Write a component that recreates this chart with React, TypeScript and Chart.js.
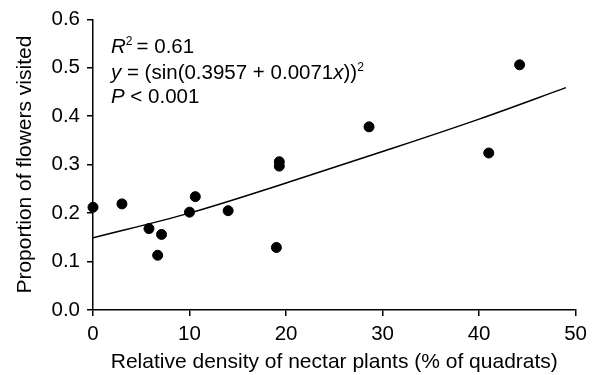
import React, { useEffect, useRef } from "react";
import { Chart, registerables } from "chart.js";

Chart.register(...registerables);

const densityX = [0, 3.0, 5.8, 6.7, 7.1, 10.0, 10.6, 14.0, 19.0, 19.3, 19.3, 28.6, 41.0, 44.2];
const visitedY = [0.212, 0.219, 0.168, 0.113, 0.156, 0.202, 0.234, 0.205, 0.129, 0.297, 0.306, 0.378, 0.324, 0.506];

const curveX = [0, 10, 20, 30, 40, 49];
const curveY = [0.149, 0.2, 0.262, 0.327, 0.394, 0.459];

const xTicks = [0, 10, 20, 30, 40, 50];
const yTicks = [0.0, 0.1, 0.2, 0.3, 0.4, 0.5, 0.6];

const FONT = "'Liberation Sans', Arial, Helvetica, sans-serif";

type Seg = { t: string; italic?: boolean; sup?: boolean };

const annotationLines: Seg[][] = [
  [{ t: "R", italic: true }, { t: "2", sup: true }, { t: "\u2009= 0.61" }],
  [
    { t: "y", italic: true },
    { t: " = (sin(0.3957 + 0.0071" },
    { t: "x", italic: true },
    { t: "))" },
    { t: "2", sup: true },
  ],
  [{ t: "P", italic: true }, { t: " < 0.001" }],
];

const annotationPlugin = {
  id: "annotationText",
  afterDraw(chart: any) {
    const ctx = chart.ctx;
    ctx.save();
    ctx.fillStyle = "#000";
    ctx.textBaseline = "alphabetic";
    ctx.textAlign = "left";
    const startX = 111;
    const baselines = [53, 79, 103];
    annotationLines.forEach((line, i) => {
      let x = startX;
      const y = baselines[i];
      line.forEach((s) => {
        const size = s.sup ? 12 : 20.5;
        ctx.font = `${s.italic ? "italic " : ""}${size}px ${FONT}`;
        ctx.fillText(s.t, x, s.sup ? y - 8 : y);
        x += ctx.measureText(s.t).width;
      });
    });
    ctx.restore();
  },
};

export default function App() {
  const ref = useRef<HTMLCanvasElement | null>(null);
  useEffect(() => {
    document.body.style.margin = "0";
    if (!ref.current) return;
    const chart = new Chart(ref.current, {
      type: "scatter",
      data: {
        datasets: [
          {
            type: "line",
            data: curveX.map((x, i) => ({ x, y: curveY[i] })),
            borderColor: "#000",
            borderWidth: 1.5,
            pointRadius: 0,
            fill: false,
            cubicInterpolationMode: "monotone",
            showLine: true,
          } as any,
          {
            data: densityX.map((x, i) => ({ x, y: visitedY[i] })),
            backgroundColor: "#000",
            borderColor: "#000",
            pointRadius: 5,
            pointHoverRadius: 5,
            clip: false,
          } as any,
        ],
      },
      options: {
        animation: false,
        responsive: false,
        events: [],
        layout: { padding: { top: 15, right: 15, left: 0, bottom: 0 } },
        plugins: { legend: { display: false }, tooltip: { enabled: false } },
        scales: {
          x: {
            type: "linear",
            min: 0,
            max: 50,
            afterBuildTicks: (s: any) => {
              s.ticks = xTicks.map((v) => ({ value: v }));
            },
            afterFit: (s: any) => {
              s.height = 65;
            },
            ticks: {
              color: "#000",
              font: { family: FONT, size: 20.5 },
              padding: 6,
              maxRotation: 0,
            },
            grid: {
              drawOnChartArea: false,
              drawTicks: true,
              tickLength: 6,
              color: "#000",
              lineWidth: 1.5,
            },
            border: { display: true, color: "#000", width: 1.5 },
            title: {
              display: true,
              text: "Relative density of nectar plants (% of quadrats)",
              color: "#000",
              font: { family: FONT, size: 21 },
              padding: { top: 0, bottom: 0 },
            },
          },
          y: {
            type: "linear",
            min: 0,
            max: 0.6,
            afterBuildTicks: (s: any) => {
              s.ticks = yTicks.map((v) => ({ value: v }));
            },
            afterFit: (s: any) => {
              s.width = 93;
            },
            ticks: {
              color: "#000",
              font: { family: FONT, size: 20.5 },
              padding: 7,
              callback: (v: any) => Number(v).toFixed(1),
            },
            grid: {
              drawOnChartArea: false,
              drawTicks: true,
              tickLength: 6,
              color: "#000",
              lineWidth: 1.5,
            },
            border: { display: true, color: "#000", width: 1.5 },
            title: {
              display: true,
              text: "Proportion of flowers visited",
              color: "#000",
              font: { family: FONT, size: 21 },
              padding: { top: 13, bottom: 0 },
            },
          },
        },
      },
      plugins: [annotationPlugin],
    });
    return () => chart.destroy();
  }, []);
  return (
    <div style={{ width: 593, height: 375 }}>
      <canvas ref={ref} width={593} height={375} />
    </div>
  );
}
